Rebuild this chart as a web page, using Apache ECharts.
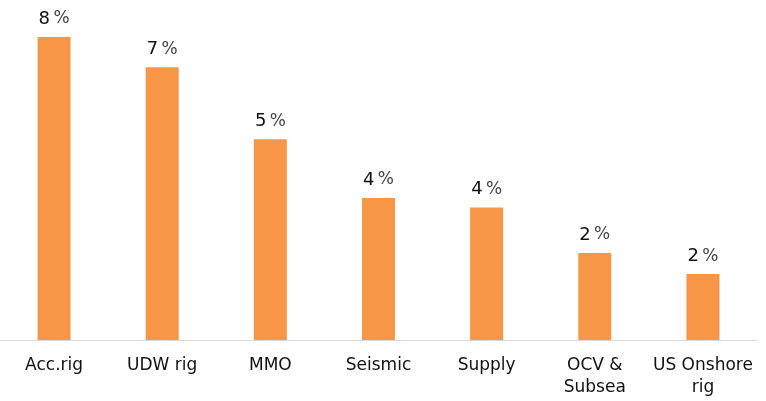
<!DOCTYPE html>
<html><head><meta charset="utf-8">
<script src="https://cdn.jsdelivr.net/npm/echarts@6/dist/echarts.min.js"></script>
<style>html,body{margin:0;padding:0;background:#fff}#c{width:766px;height:401px}</style>
</head><body><div id="c"></div>
<script>
var categories = ['Acc.rig', 'UDW rig', 'MMO', 'Seismic', 'Supply', 'OCV &\nSubsea', 'US Onshore\nrig'];
var values = [8.0, 7.2, 5.3, 3.75, 3.5, 2.3, 1.74];

var chart = echarts.init(document.getElementById('c'));
chart.setOption({
  animation: false,
  grid: { left: -3, right: 9, top: 37, bottom: 61, containLabel: false },
  xAxis: {
    type: 'category',
    data: categories,
    axisLine: { lineStyle: { color: '#d9d9d9', width: 1 } },
    axisTick: { show: false },
    axisLabel: { color: '#111', fontSize: 17, fontFamily: 'DejaVu Sans', margin: 15, lineHeight: 22, interval: 0 }
  },
  yAxis: { type: 'value', min: 0, max: 8, show: false, splitLine: { show: false } },
  series: [{
    type: 'bar',
    data: values,
    barWidth: 33,
    itemStyle: { color: '#F79646' },
    label: {
      show: true, position: 'top', distance: 9,
      formatter: function (p) { return '{n|' + Math.round(p.value) + '} {p|%}'; },
      rich: {
        n: { color: '#111', fontSize: 18, fontFamily: 'DejaVu Sans' },
        p: { color: '#444', fontSize: 17, fontFamily: 'DejaVu Sans' }
      }
    }
  }]
});
</script></body></html>
